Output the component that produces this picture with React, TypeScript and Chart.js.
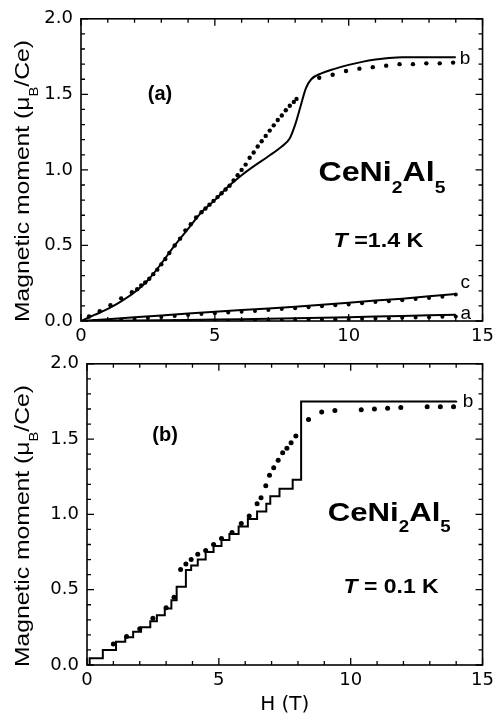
import React, { useEffect, useRef } from 'react';
import { Chart, registerables } from 'chart.js';

Chart.register(...registerables);

// ---------- Panel (a): T = 1.4 K ----------
const fieldA_b = [0, 0.5, 1.0, 1.5, 2.0, 2.5, 3.0, 3.5, 4.0, 4.5, 5.0, 5.5, 6.0, 6.5, 7.0, 7.5, 7.8, 8.0, 8.2, 8.4, 8.6, 9.0, 9.5, 10.0, 10.5, 11.0, 11.5, 12.0, 13.0, 14.0];
const momentA_b = [0, 0.04, 0.08, 0.13, 0.19, 0.27, 0.38, 0.50, 0.61, 0.72, 0.80, 0.89, 0.965, 1.03, 1.09, 1.155, 1.21, 1.30, 1.42, 1.54, 1.60, 1.64, 1.67, 1.695, 1.715, 1.73, 1.74, 1.745, 1.745, 1.745];

const fieldA_bDots = [0.3, 0.7, 1.1, 1.5, 1.9, 2.1, 2.25, 2.4, 2.55, 2.7, 2.85, 3.0, 3.15, 3.3, 3.5, 3.7, 3.9, 4.1, 4.3, 4.5, 4.65, 4.8, 4.95, 5.1, 5.25, 5.4, 5.55, 5.7, 5.85, 6.0, 6.15, 6.3, 6.45, 6.6, 6.75, 6.9, 7.05, 7.2, 7.35, 7.5, 7.65, 7.8, 7.95, 8.05, 8.9, 9.4, 9.9, 10.4, 10.9, 11.4, 11.9, 12.4, 12.9, 13.4, 13.9];
const momentA_bDots = [0.03, 0.065, 0.105, 0.15, 0.19, 0.21, 0.235, 0.255, 0.28, 0.31, 0.34, 0.375, 0.41, 0.45, 0.50, 0.545, 0.60, 0.64, 0.685, 0.72, 0.745, 0.77, 0.795, 0.82, 0.845, 0.87, 0.895, 0.93, 0.965, 1.0, 1.035, 1.08, 1.115, 1.155, 1.19, 1.225, 1.26, 1.295, 1.33, 1.36, 1.395, 1.425, 1.45, 1.47, 1.61, 1.63, 1.655, 1.67, 1.68, 1.69, 1.70, 1.70, 1.705, 1.705, 1.71];

const fieldA_ac = [0, 1, 2, 3, 4, 5, 6, 7, 8, 9, 10, 11, 12, 13, 14];
const momentA_c = [0, 0.012, 0.025, 0.037, 0.05, 0.062, 0.072, 0.083, 0.095, 0.108, 0.12, 0.135, 0.148, 0.163, 0.178];
const momentA_a = [0, 0.0015, 0.003, 0.005, 0.007, 0.0095, 0.012, 0.015, 0.018, 0.0215, 0.025, 0.029, 0.033, 0.0375, 0.042];

const fieldA_acDots = [0.5, 1, 1.5, 2, 2.5, 3, 3.5, 4, 4.5, 5, 5.5, 6, 6.5, 7, 7.5, 8, 8.5, 9, 9.5, 10, 10.5, 11, 11.5, 12, 12.5, 13, 13.5, 14];
const momentA_cDots = [0, 0.002, 0.008, 0.015, 0.021, 0.027, 0.033, 0.04, 0.046, 0.052, 0.057, 0.062, 0.067, 0.073, 0.079, 0.085, 0.091, 0.098, 0.104, 0.11, 0.117, 0.125, 0.131, 0.138, 0.145, 0.153, 0.16, 0.176];
const momentA_aDots = [0, 0, 0, 0, 0, 0, 0, 0, 0, 0, 0, 0, 0.0015, 0.003, 0.0045, 0.006, 0.008, 0.0095, 0.011, 0.013, 0.015, 0.017, 0.019, 0.021, 0.023, 0.0255, 0.028, 0.03];

// ---------- Panel (b): T = 0.1 K ----------
const fieldB_step = [0, 0.1, 0.6, 1.1, 1.45, 1.75, 2.05, 2.4, 2.65, 2.95, 3.2, 3.4, 3.75, 3.95, 4.2, 4.5, 4.8, 5.1, 5.4, 5.75, 6.1, 6.45, 6.8, 6.95, 7.3, 7.8, 8.12, 14.0];
const momentB_step = [0, 0.045, 0.10, 0.155, 0.185, 0.22, 0.25, 0.29, 0.33, 0.375, 0.43, 0.52, 0.63, 0.66, 0.70, 0.75, 0.79, 0.83, 0.87, 0.92, 0.97, 1.02, 1.07, 1.12, 1.17, 1.23, 1.75, 1.755];

const fieldB_dots = [1.0, 1.5, 2.0, 2.5, 3.0, 3.3, 3.55, 3.75, 3.95, 4.2, 4.5, 4.8, 5.1, 5.5, 5.85, 6.15, 6.45, 6.6, 6.78, 6.92, 7.08, 7.25, 7.42, 7.58, 7.74, 7.92, 8.4, 8.9, 9.4, 10.4, 10.9, 11.4, 11.9, 12.9, 13.4, 13.9];
const momentB_dots = [0.14, 0.19, 0.24, 0.31, 0.38, 0.45, 0.634, 0.67, 0.70, 0.735, 0.76, 0.80, 0.84, 0.88, 0.94, 0.99, 1.07, 1.11, 1.19, 1.26, 1.31, 1.36, 1.41, 1.44, 1.475, 1.52, 1.63, 1.68, 1.69, 1.695, 1.70, 1.705, 1.71, 1.715, 1.715, 1.715];

// ---------- axes ----------
const X_MIN = 0, X_MAX = 15, X_MAJOR = 5, X_MINOR = 1;
const Y_MIN = 0, Y_MAX = 2, Y_MAJOR = 0.5, Y_MINOR = 0.1;
const X_TITLE = 'H (T)';

type Part = { t: string; sub?: boolean; italic?: boolean };
type Note = { parts: Part[]; x: number; y: number; size: number; bold?: boolean; width?: number; align?: 'left' | 'center' };

const Y_TITLE: Part[] = [{ t: 'Magnetic moment (μ' }, { t: 'B', sub: true }, { t: '/Ce)' }];
const FORMULA: Part[] = [{ t: 'CeNi' }, { t: '2', sub: true }, { t: 'Al' }, { t: '5', sub: true }];

const TICK_FAMILY = "'DejaVu Sans', sans-serif";
const TEXT_FAMILY = "'Liberation Sans', Arial, sans-serif";

const zip = (xs: number[], ys: number[]) => xs.map((x, i) => ({ x, y: ys[i] }));

function fontStr(size: number, bold: boolean, italic: boolean) {
  return `${italic ? 'italic ' : ''}${bold ? 'bold ' : ''}${size}px ${TEXT_FAMILY}`;
}

function drawRich(ctx: CanvasRenderingContext2D, parts: Part[], size: number, bold: boolean,
  x: number, y: number, width: number | undefined, align: 'left' | 'center', rotate: number) {
  const subSize = size * 0.6;
  const subShift = size * 0.42;
  ctx.save();
  let natural = 0;
  const widths = parts.map((p) => {
    ctx.font = fontStr(p.sub ? subSize : size, bold, !!p.italic);
    const w = ctx.measureText(p.t).width;
    natural += w;
    return w;
  });
  const sx = width ? width / natural : 1;
  ctx.translate(x, y);
  if (rotate) ctx.rotate(rotate);
  ctx.scale(sx, 1);
  let cx = align === 'center' ? -natural / 2 : 0;
  ctx.fillStyle = '#000';
  ctx.textBaseline = 'alphabetic';
  ctx.textAlign = 'left';
  parts.forEach((p, i) => {
    ctx.font = fontStr(p.sub ? subSize : size, bold, !!p.italic);
    ctx.fillText(p.t, cx, p.sub ? subShift : 0);
    cx += widths[i];
  });
  ctx.restore();
}

function makeDeco(notes: Note[], titleX: number, titleY: number) {
  return {
    id: 'deco',
    afterDatasetsDraw(chart: any) {
      const { ctx, chartArea: a, scales } = chart;
      const xs = scales.x, ys = scales.y;
      ctx.save();
      ctx.strokeStyle = '#000';
      ctx.lineWidth = 1.6;
      ctx.strokeRect(a.left, a.top, a.right - a.left, a.bottom - a.top);
      ctx.lineWidth = 1.3;
      const nx = Math.round((X_MAX - X_MIN) / X_MINOR);
      for (let i = 0; i <= nx; i++) {
        const v = X_MIN + i * X_MINOR;
        const major = Math.abs(v / X_MAJOR - Math.round(v / X_MAJOR)) < 1e-6;
        const len = major ? 7 : 4;
        const px = xs.getPixelForValue(v);
        ctx.beginPath();
        ctx.moveTo(px, a.bottom); ctx.lineTo(px, a.bottom - len);
        ctx.moveTo(px, a.top); ctx.lineTo(px, a.top + len);
        ctx.stroke();
      }
      const ny = Math.round((Y_MAX - Y_MIN) / Y_MINOR);
      for (let i = 0; i <= ny; i++) {
        const v = Y_MIN + i * Y_MINOR;
        const major = Math.abs(v / Y_MAJOR - Math.round(v / Y_MAJOR)) < 1e-6;
        const len = major ? 7 : 4;
        const py = ys.getPixelForValue(v);
        ctx.beginPath();
        ctx.moveTo(a.left, py); ctx.lineTo(a.left + len, py);
        ctx.moveTo(a.right, py); ctx.lineTo(a.right - len, py);
        ctx.stroke();
      }
      for (const n of notes) {
        drawRich(ctx, n.parts, n.size, !!n.bold, xs.getPixelForValue(n.x), ys.getPixelForValue(n.y), n.width, n.align || 'left', 0);
      }
      drawRich(ctx, Y_TITLE, 21, false, titleX, titleY, 282, 'center', -Math.PI / 2);
      ctx.restore();
    },
  };
}

function lineDs(xs: number[], ys: number[], extra: any = {}) {
  return { data: zip(xs, ys), showLine: true, borderColor: '#000', borderWidth: 2, pointRadius: 0, fill: false, ...extra };
}
function dotDs(xs: number[], ys: number[], r: number) {
  return { data: zip(xs, ys), showLine: false, pointRadius: r, pointBackgroundColor: '#000', pointBorderWidth: 0, backgroundColor: '#000', borderColor: '#000' };
}

function baseOptions(yWidth: number, xHeight: number, padRight: number, showTitle: boolean) {
  return {
    responsive: false,
    animation: false,
    devicePixelRatio: 1,
    events: [],
    layout: { padding: { top: 17, right: padRight, bottom: 0, left: 0 } },
    plugins: { legend: { display: false }, tooltip: { enabled: false } },
    scales: {
      x: {
        type: 'linear', min: X_MIN, max: X_MAX,
        afterFit: (s: any) => { s.height = xHeight; },
        grid: { display: false, drawTicks: false },
        border: { display: false },
        ticks: { stepSize: X_MAJOR, autoSkip: false, maxRotation: 0, padding: 5, color: '#000', font: { family: TICK_FAMILY, size: 18 } },
        title: { display: showTitle, text: X_TITLE, color: '#000', font: { family: TICK_FAMILY, size: 20 }, padding: { top: 0, bottom: 0 } },
      },
      y: {
        type: 'linear', min: Y_MIN, max: Y_MAX,
        afterFit: (s: any) => { s.width = yWidth; },
        grid: { display: false, drawTicks: false },
        border: { display: false },
        ticks: { stepSize: Y_MAJOR, autoSkip: false, padding: 8, color: '#000', font: { family: TICK_FAMILY, size: 18 }, callback: (v: any) => Number(v).toFixed(1) },
      },
    },
  };
}

const notesA: Note[] = [
  { parts: [{ t: '(a)' }], x: 2.95, y: 1.462, size: 20, bold: true, align: 'center' },
  { parts: FORMULA, x: 8.87, y: 0.928, size: 28, bold: true, width: 127 },
  { parts: [{ t: 'T', italic: true }, { t: ' =1.4 K' }], x: 9.43, y: 0.487, size: 20, bold: true, width: 90 },
  { parts: [{ t: 'b' }], x: 14.15, y: 1.70, size: 19 },
  { parts: [{ t: 'c' }], x: 14.18, y: 0.217, size: 19 },
  { parts: [{ t: 'a' }], x: 14.18, y: 0.013, size: 19 },
];

const notesB: Note[] = [
  { parts: [{ t: '(b)' }], x: 2.96, y: 1.485, size: 20, bold: true, align: 'center' },
  { parts: FORMULA, x: 9.13, y: 0.957, size: 26, bold: true, width: 123 },
  { parts: [{ t: 'T', italic: true }, { t: ' = 0.1 K' }], x: 9.73, y: 0.475, size: 20, bold: true, width: 95 },
  { parts: [{ t: 'b' }], x: 14.25, y: 1.716, size: 19 },
];

export default function App() {
  const refA = useRef<HTMLCanvasElement>(null);
  const refB = useRef<HTMLCanvasElement>(null);

  useEffect(() => {
    const chartA = new Chart(refA.current as HTMLCanvasElement, {
      type: 'scatter',
      data: {
        datasets: [
          lineDs(fieldA_b, momentA_b, { cubicInterpolationMode: 'monotone' }),
          lineDs(fieldA_ac, momentA_c),
          lineDs(fieldA_ac, momentA_a),
          dotDs(fieldA_bDots, momentA_bDots, 2.2),
          dotDs(fieldA_acDots, momentA_cDots, 2),
          dotDs(fieldA_acDots, momentA_aDots, 2),
        ] as any,
      },
      options: baseOptions(81, 39, 14, false) as any,
      plugins: [makeDeco(notesA, 29, 181)],
    });
    const chartB = new Chart(refB.current as HTMLCanvasElement, {
      type: 'scatter',
      data: {
        datasets: [
          lineDs(fieldB_step, momentB_step, { stepped: true }),
          dotDs(fieldB_dots, momentB_dots, 2.5),
        ] as any,
      },
      options: baseOptions(87, 52, 11, true) as any,
      plugins: [makeDeco(notesB, 29, 181)],
    });
    return () => { chartA.destroy(); chartB.destroy(); };
  }, []);

  return (
    <div style={{ position: 'absolute', left: 0, top: 0, width: 499, height: 717, background: '#fff' }}>
      <canvas ref={refA} width={499} height={360} style={{ position: 'absolute', left: 0, top: 0, width: 499, height: 360 }} />
      <canvas ref={refB} width={499} height={372} style={{ position: 'absolute', left: 0, top: 345, width: 499, height: 372 }} />
    </div>
  );
}
